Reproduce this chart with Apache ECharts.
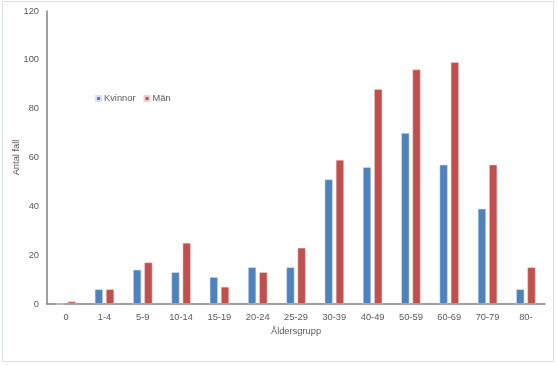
<!DOCTYPE html>
<html><head><meta charset="utf-8">
<script src="https://cdn.jsdelivr.net/npm/echarts@6/dist/echarts.min.js"></script>
<style>html,body{margin:0;padding:0;background:#fff}#c{width:557px;height:365px}</style>
</head><body><div id="c"></div>
<script>
const categories = ['0','1-4','5-9','10-14','15-19','20-24','25-29','30-39','40-49','50-59','60-69','70-79','80-'];
const kvinnor = [0,6,14,13,11,15,15,51,56,70,57,39,6];
const man = [1,6,17,25,7,13,23,59,88,96,99,57,15];
const yTicks = [0,20,40,60,80,100,120];
const seriesNames = ['Kvinnor','Män'];

const chart = echarts.init(document.getElementById('c'));
const txt = {color:'#595959', fontFamily:'Liberation Sans, Arial', fontSize:9.3};
chart.setOption({
  animation:false,
  graphic:[{type:'rect', shape:{x:2.5,y:1.5,width:551,height:360}, style:{fill:'none', stroke:'#d9e0e0', lineWidth:1}, silent:true}],
  legend:{data:seriesNames, left:95, top:94, padding:0, itemWidth:5, itemHeight:5, itemGap:8, icon:'rect',
    textStyle:Object.assign({}, txt, {padding:[0,0,0,-2]})},
  grid:{left:47, right:12, top:11, bottom:61, outerBoundsMode:'none', containLabel:false},
  xAxis:{type:'category', data:categories, name:'Åldersgrupp', nameLocation:'middle', nameGap:23,
    nameMoveOverlap:false, nameTextStyle:txt,
    axisLine:{lineStyle:{color:'#808080', width:1.5}}, axisTick:{show:false},
    axisLabel:Object.assign({}, txt, {margin:9})},
  yAxis:{type:'value', min:0, max:120, interval:20, name:'Antal fall', nameLocation:'middle', nameGap:26,
    nameMoveOverlap:false, nameTextStyle:txt,
    axisLine:{show:true, lineStyle:{color:'#808080', width:1.5}}, axisTick:{show:false}, splitLine:{show:false},
    axisLabel:Object.assign({}, txt, {margin:8, formatter:v=>yTicks.includes(v)?String(v):''})},
  series:[
    {name:seriesNames[0], type:'bar', data:kvinnor, barWidth:8, barGap:'40%',
      itemStyle:{color:'#4f81bd', borderColor:'#d6e2f0', borderWidth:0.5}},
    {name:seriesNames[1], type:'bar', data:man, barWidth:8,
      itemStyle:{color:'#c0504d', borderColor:'#f0d0cf', borderWidth:0.5}}
  ]
});
</script></body></html>
